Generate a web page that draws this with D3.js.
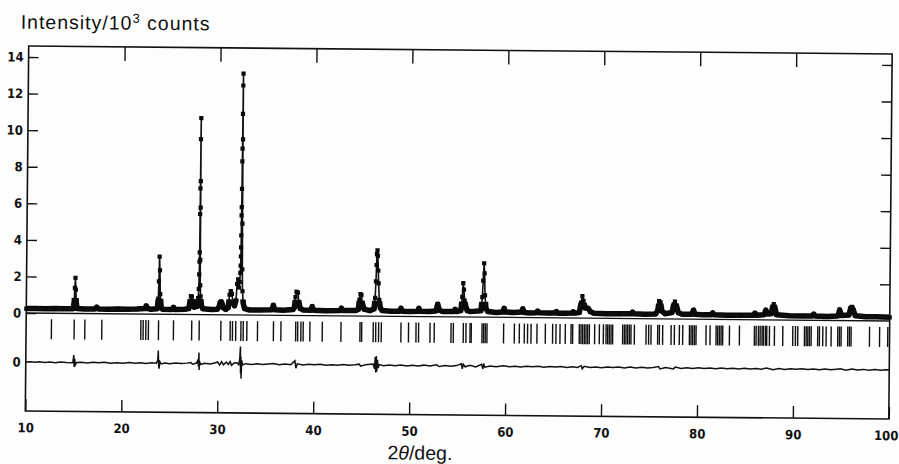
<!DOCTYPE html>
<html>
<head>
<meta charset="utf-8">
<script src="https://cdn.jsdelivr.net/npm/d3@7/dist/d3.min.js"></script>
<style>
  body { margin: 0; background: #fff; }
</style>
</head>
<body>
<div id="chart"></div>
<script>
// Data (2theta in deg, intensity in 10^3 counts)
////////////////////////////////////////////////////////////////////
const twoThetaTicks = [10, 20, 30, 40, 50, 60, 70, 80, 90, 100];
const intensityTicks = [0, 2, 4, 6, 8, 10, 12, 14];

const profile = [
  [10.0,0.24],[11.0,0.25],[12.0,0.24],[13.0,0.26],[14.0,0.25],[14.9,0.26],
  [15.0,0.7],[15.05,1.4],[15.1,1.95],[15.15,1.3],[15.2,0.6],[15.3,0.27],
  [16.0,0.25],[17.2,0.26],[17.35,0.36],[17.5,0.26],[18.5,0.25],[19.5,0.27],[20.5,0.26],[21.5,0.27],
  [22.35,0.3],[22.5,0.45],[22.65,0.3],[23.0,0.27],
  [23.65,0.3],[23.75,0.85],[23.8,1.8],[23.85,3.15],[23.9,2.4],[23.95,1.1],[24.05,0.4],[24.2,0.28],
  [25.2,0.27],[25.35,0.38],[25.5,0.27],[26.5,0.28],
  [26.95,0.32],[27.05,0.7],[27.15,1.0],[27.25,0.98],[27.35,0.6],[27.5,0.4],
  [27.8,0.45],[27.9,0.9],[27.96,1.4],[27.99,2.2],[28.01,2.9],[28.02,3.4],[28.03,5.5],[28.04,6.9],
  [28.05,9.6],[28.06,10.75],[28.07,7.3],[28.08,5.85],[28.09,3.0],[28.11,1.6],[28.16,1.0],[28.25,0.5],[28.4,0.32],
  [29.3,0.28],[29.9,0.3],[30.1,0.45],[30.2,0.68],[30.3,0.72],[30.4,0.62],[30.55,0.38],[30.8,0.3],
  [31.05,0.4],[31.18,1.1],[31.3,1.3],[31.42,1.15],[31.55,0.65],[31.7,0.5],
  [31.85,0.8],[31.95,1.7],[32.05,1.95],[32.15,1.5],[32.22,1.8],[32.27,2.3],[32.3,2.7],[32.32,3.2],
  [32.33,3.7],[32.34,4.35],[32.35,5.45],[32.36,5.9],[32.37,6.9],[32.38,8.4],[32.39,9.1],[32.4,11.0],
  [32.41,12.55],[32.42,13.2],[32.43,9.6],[32.45,5.0],[32.48,2.5],[32.52,1.3],[32.6,0.65],[32.75,0.35],[33.2,0.28],
  [34.2,0.28],[35.6,0.3],[35.75,0.55],[35.9,0.3],[36.8,0.28],[37.8,0.32],
  [37.95,0.45],[38.05,1.0],[38.15,1.3],[38.3,1.25],[38.4,0.75],[38.55,0.38],[38.9,0.3],
  [39.65,0.3],[39.8,0.5],[39.95,0.3],[41.2,0.28],[42.7,0.3],[42.85,0.42],[43.0,0.3],[44.3,0.3],
  [44.6,0.36],[44.72,0.9],[44.82,1.2],[44.92,1.15],[45.02,0.7],[45.2,0.38],[45.8,0.3],
  [46.25,0.4],[46.35,1.0],[46.42,1.9],[46.47,2.8],[46.5,3.4],[46.55,3.6],[46.6,3.3],[46.65,2.5],
  [46.7,1.8],[46.78,0.9],[46.9,0.45],[47.1,0.32],
  [48.0,0.28],[48.9,0.29],[49.05,0.45],[49.2,0.29],[50.0,0.28],[50.8,0.29],[50.92,0.45],[51.05,0.29],[52.0,0.28],
  [52.7,0.32],[52.88,0.7],[53.05,0.36],[53.4,0.29],[54.55,0.3],[54.7,0.42],[54.85,0.3],
  [55.3,0.35],[55.43,1.1],[55.52,1.85],[55.6,1.5],[55.68,0.9],[55.8,0.6],[55.95,0.35],
  [56.3,0.3],[57.4,0.35],[57.52,1.1],[57.6,2.0],[57.68,2.95],[57.74,2.4],[57.8,1.2],[57.9,0.5],[58.1,0.32],
  [59.0,0.27],[59.65,0.3],[59.8,0.5],[59.95,0.3],[60.8,0.27],[61.6,0.3],[61.75,0.48],[61.9,0.28],
  [62.5,0.26],[63.15,0.27],[63.3,0.36],[63.45,0.27],[64.5,0.26],[65.1,0.27],[65.25,0.34],[65.4,0.26],
  [66.2,0.26],[66.85,0.27],[67.0,0.34],[67.15,0.27],
  [67.65,0.3],[67.82,0.85],[67.95,1.2],[68.08,0.95],[68.25,0.55],[68.55,0.55],[68.8,0.35],[69.2,0.27],
  [70.5,0.25],[71.8,0.26],[73.05,0.26],[73.2,0.35],[73.35,0.26],[74.5,0.25],[75.6,0.27],
  [75.82,0.45],[75.95,0.97],[76.1,0.9],[76.25,0.42],[76.6,0.28],
  [77.3,0.35],[77.48,0.8],[77.6,0.95],[77.75,0.75],[77.95,0.35],[78.4,0.26],
  [79.35,0.27],[79.55,0.5],[79.7,0.27],[80.6,0.24],[81.4,0.25],[81.55,0.35],[81.7,0.25],
  [83.0,0.23],[84.5,0.24],[85.8,0.24],[85.95,0.36],[86.1,0.25],
  [86.9,0.28],[87.08,0.53],[87.25,0.32],[87.65,0.33],[87.78,0.7],[87.9,0.86],[88.02,0.68],[88.2,0.28],
  [89.5,0.23],[91.0,0.23],[91.95,0.24],[92.08,0.34],[92.2,0.24],[93.5,0.22],
  [94.6,0.25],[94.78,0.58],[94.95,0.28],[95.75,0.3],[95.92,0.68],[96.05,0.75],[96.2,0.58],[96.4,0.27],
  [97.5,0.22],[98.6,0.22],[100.0,0.2],
];

// Bragg reflection positions (deg)
const reflections = [
  12.64,15.01,16.12,17.89,21.96,22.20,22.48,22.75,23.80,25.36,27.26,28.04,30.30,31.27,31.51,31.85,
  32.39,32.63,33.01,34.12,35.78,36.56,38.10,38.31,38.64,38.88,39.58,40.87,42.82,44.80,44.98,46.18,
  46.44,46.74,47.02,49.07,49.86,50.64,50.91,52.10,52.54,54.29,54.53,55.57,55.85,56.27,56.40,57.52,
  57.69,57.86,58.04,59.77,60.89,61.41,61.93,62.27,62.63,63.25,64.12,64.88,65.23,65.65,66.20,66.80,
  66.97,67.66,67.84,68.01,68.19,68.36,68.53,68.71,69.26,69.75,70.17,70.45,70.62,70.79,70.97,71.14,
  72.18,72.36,72.53,72.70,72.88,73.05,73.40,74.62,74.89,75.14,75.83,76.01,76.35,77.23,77.57,78.09,
  78.44,79.14,79.31,79.48,79.66,79.83,80.87,81.29,81.92,82.09,82.27,82.44,82.61,83.31,84.35,85.91,
  86.09,86.33,86.51,86.71,86.85,87.06,87.20,87.48,88.00,88.87,89.91,90.19,90.43,91.13,91.31,91.48,
  91.65,91.83,92.51,92.69,93.04,93.39,93.91,94.60,94.78,94.95,95.64,95.82,95.99,97.91,98.96,99.81,
];

// observed - calculated
const difference = [
  [10.0,0.0],[10.5,0.02],[11.0,-0.01],[11.4,0.02],[12.0,-0.02],[12.5,0.01],[13.1,-0.02],[13.6,0.02],
  [14.2,-0.01],[14.9,-0.02],
  [15.0,0.4],[15.05,-0.25],[15.1,0.2],[15.15,-0.15],[15.3,0.0],[15.8,0.02],[16.4,-0.02],[17.0,0.02],
  [17.6,-0.01],[18.2,0.02],[18.8,-0.02],[19.5,0.01],[20.1,-0.02],[20.8,0.02],[21.4,-0.01],[22.0,0.02],
  [22.5,-0.02],[23.1,0.02],[23.6,0.0],
  [23.75,0.15],[23.8,0.7],[23.85,-0.15],[23.9,-0.3],[23.95,0.1],[24.1,-0.04],[24.5,0.02],
  [25.0,-0.02],[25.6,0.02],[26.2,-0.01],[26.8,0.02],[27.2,0.05],[27.4,-0.04],[27.8,0.03],
  [27.95,0.2],[28.0,-0.15],[28.04,0.6],[28.07,-0.35],[28.1,0.15],[28.2,-0.05],[28.6,0.02],
  [29.2,-0.02],[29.7,0.04],[30.0,0.1],[30.2,-0.07],[30.4,0.12],[30.6,-0.05],[30.9,0.1],
  [31.1,-0.03],[31.3,0.12],[31.45,-0.08],[31.7,0.05],[32.0,0.07],[32.2,-0.04],[32.3,0.3],
  [32.36,0.95],[32.39,-0.5],[32.42,0.4],[32.45,-0.8],[32.5,0.2],[32.6,-0.05],[32.9,0.02],
  [33.5,-0.02],[34.1,0.02],[34.7,-0.01],[35.3,0.02],[35.8,0.04],[36.4,-0.02],[37.0,0.02],[37.6,-0.02],
  [38.05,0.2],[38.15,-0.2],[38.3,0.04],[38.9,-0.02],[39.5,0.02],[40.1,-0.01],[40.7,0.02],[41.3,-0.02],
  [41.9,0.01],[42.5,-0.02],[43.1,0.02],[43.7,-0.01],[44.3,0.02],[44.75,0.05],[44.9,-0.06],[45.4,0.02],
  [46.2,0.06],[46.35,-0.2],[46.42,0.45],[46.48,-0.4],[46.53,0.5],[46.58,-0.35],[46.65,0.3],
  [46.72,-0.15],[46.85,0.04],[47.3,-0.02],[47.9,0.02],[48.5,-0.02],[49.1,0.03],[49.7,-0.02],
  [50.3,0.02],[50.9,-0.02],[51.5,0.03],[52.1,-0.02],[52.8,0.05],[53.1,-0.04],[53.7,0.02],[54.3,-0.02],
  [54.9,0.02],[55.4,0.12],[55.5,-0.15],[55.6,0.1],[55.8,-0.04],[56.3,0.05],[56.9,-0.04],[57.5,0.1],
  [57.65,-0.15],[57.72,0.15],[57.85,-0.05],[58.4,0.02],[59.0,-0.02],[59.8,0.04],[60.4,-0.02],
  [61.0,0.02],[61.6,-0.02],[62.2,0.02],[62.8,-0.01],[63.4,0.02],[64.0,-0.02],[64.6,0.02],[65.2,-0.01],
  [65.8,0.02],[66.4,-0.02],[67.0,0.02],[67.5,-0.02],[67.9,0.08],[68.0,-0.09],[68.2,0.05],[68.8,-0.02],
  [69.4,0.02],[70.0,-0.02],[70.6,0.02],[71.2,-0.01],[71.8,0.02],[72.4,-0.02],[73.0,0.03],[73.6,-0.02],
  [74.2,0.02],[74.8,-0.02],[75.4,0.02],[75.95,0.07],[76.1,-0.06],[76.7,0.02],[77.5,-0.05],[77.7,0.05],
  [78.3,-0.02],[78.9,0.02],[79.5,-0.02],[80.1,0.02],[80.7,-0.01],[81.3,0.02],[81.9,-0.02],[82.5,0.02],
  [83.1,-0.02],[83.7,0.01],[84.3,-0.02],[84.9,0.02],[85.5,-0.02],[86.1,0.02],[86.7,-0.02],[87.2,0.04],
  [87.9,-0.04],[88.5,0.02],[89.1,-0.02],[89.7,0.02],[90.3,-0.01],[90.9,0.02],[91.5,-0.02],[92.1,0.02],
  [92.7,-0.02],[93.3,0.02],[93.9,-0.01],[94.5,0.02],[94.9,0.04],[95.5,-0.03],[96.1,0.04],[96.7,-0.02],
  [97.3,0.02],[97.9,-0.02],[98.5,0.02],[99.1,-0.02],[99.6,0.01],[100.0,0.0],
];

function draw() {
  // Dimensions
  ////////////////////////////////////////////////////////////////////
  let dimensions = {
    width: 899,
    height: 464,
    margin: { top: 50, left: 27 },
  };
  dimensions.ctrWidth = 863.5;
  dimensions.ctrHeight = 365;

  const tilt = 0.53; // the scanned page is slightly rotated
  const diffBase = -2.68; // where the difference curve sits
  const tickFont = "'DejaVu Sans Condensed', 'Liberation Sans Narrow', sans-serif";
  const labelFont = "'Liberation Sans', Arial, sans-serif";

  const svg = d3
    .select("#chart")
    .append("svg")
    .attr("width", dimensions.width)
    .attr("height", dimensions.height);

  svg.append("rect")
    .attr("width", dimensions.width)
    .attr("height", dimensions.height)
    .attr("fill", "#fdfdfd");

  const page = svg.append("g").attr("transform", `rotate(${tilt}, 458, 232)`);

  const ctr = page
    .append("g")
    .attr("transform", `translate(${dimensions.margin.left}, ${dimensions.margin.top})`);

  // Scales
  ////////////////////////////////////////////////////////////////////
  const xScale = d3.scaleLinear().domain([10, 100]).range([0, dimensions.ctrWidth]);
  const yScale = d3.scaleLinear().domain([-5.36, 14.6]).range([dimensions.ctrHeight, 0]);

  const xAccessor = (d) => d[0];
  const yAccessor = (d) => d[1];

  // clip for the dense low part of the pattern
  svg.append("defs")
    .append("clipPath")
    .attr("id", "lowband")
    .append("rect")
    .attr("x", 0)
    .attr("width", dimensions.ctrWidth)
    .attr("y", yScale(0.85))
    .attr("height", yScale(-0.15) - yScale(0.85));

  // zero line
  ctr.append("line")
    .attr("x1", 0).attr("x2", dimensions.ctrWidth)
    .attr("y1", yScale(0)).attr("y2", yScale(0))
    .attr("stroke", "#111").attr("stroke-width", 1.3);

  const line = d3.line()
    .x((d) => xScale(xAccessor(d)))
    .y((d) => yScale(yAccessor(d)));

  // thick band where observed points crowd together
  ctr.append("path")
    .datum(profile)
    .attr("d", line)
    .attr("fill", "none")
    .attr("stroke", "#0a0a0a")
    .attr("stroke-width", 5.5)
    .attr("stroke-linejoin", "round")
    .attr("clip-path", "url(#lowband)");

  // calculated line
  ctr.append("path")
    .datum(profile)
    .attr("d", line)
    .attr("fill", "none")
    .attr("stroke", "#111")
    .attr("stroke-width", 1.6);

  // observed points
  const sq = 4.2;
  ctr.append("g")
    .selectAll("rect")
    .data(profile)
    .join("rect")
    .attr("x", (d) => xScale(xAccessor(d)) - sq / 2)
    .attr("y", (d) => yScale(yAccessor(d)) - sq / 2)
    .attr("width", sq)
    .attr("height", sq)
    .attr("fill", "#0a0a0a");

  // reflection markers
  const reflTop = yScale(0) + 6;
  ctr.append("g")
    .selectAll("line")
    .data(reflections)
    .join("line")
    .attr("x1", (d) => xScale(d))
    .attr("x2", (d) => xScale(d))
    .attr("y1", reflTop)
    .attr("y2", reflTop + 20)
    .attr("stroke", "#111")
    .attr("stroke-width", 1.4);

  // difference curve
  ctr.append("path")
    .datum(difference)
    .attr("d", d3.line()
      .x((d) => xScale(xAccessor(d)))
      .y((d) => yScale(diffBase + yAccessor(d))))
    .attr("fill", "none")
    .attr("stroke", "#111")
    .attr("stroke-width", 1.5);

  // Axis
  ////////////////////////////////////////////////////////////////////
  const styleAxis = (g) => {
    g.select(".domain").remove();
    g.selectAll(".tick line").attr("stroke", "#111").attr("stroke-width", 1.4);
    g.selectAll("text")
      .attr("fill", "#111")
      .style("font-family", tickFont)
      .style("font-size", "13px")
      .style("font-weight", "bold");
  };

  const xAxis = d3.axisBottom(xScale)
    .tickValues(twoThetaTicks)
    .tickSizeInner(-12)
    .tickSizeOuter(0)
    .tickPadding(12);
  const xAxisGroup = ctr.append("g")
    .attr("transform", `translate(0,${dimensions.ctrHeight})`)
    .call(xAxis)
    .call(styleAxis);
  // last label sits against the page edge
  xAxisGroup.selectAll(".tick text").filter((d) => d === 100).attr("dx", -3);

  const xAxisTop = d3.axisTop(xScale)
    .tickValues(twoThetaTicks.slice(1, -1))
    .tickSizeInner(-14)
    .tickSizeOuter(0)
    .tickFormat("");
  ctr.append("g").call(xAxisTop).call(styleAxis);

  const yAxis = d3.axisLeft(yScale)
    .tickValues(intensityTicks)
    .tickSizeInner(-10)
    .tickSizeOuter(0)
    .tickPadding(5);
  ctr.append("g").call(yAxis).call(styleAxis);

  const yAxisRight = d3.axisRight(yScale)
    .tickValues(intensityTicks.slice(1))
    .tickSizeInner(-10)
    .tickSizeOuter(0)
    .tickFormat("");
  ctr.append("g")
    .attr("transform", `translate(${dimensions.ctrWidth},0)`)
    .call(yAxisRight)
    .call(styleAxis);

  const diffAxis = d3.axisLeft(yScale)
    .tickValues([diffBase])
    .tickSize(0)
    .tickPadding(5)
    .tickFormat(() => "0");
  ctr.append("g").call(diffAxis).call(styleAxis);

  // frame
  ctr.append("rect")
    .attr("width", dimensions.ctrWidth)
    .attr("height", dimensions.ctrHeight)
    .attr("fill", "none")
    .attr("stroke", "#111")
    .attr("stroke-width", 1.6);

  // Labels
  ////////////////////////////////////////////////////////////////////
  const yLabel = ctr.append("text")
    .attr("x", -8.2)
    .attr("y", -17.3)
    .attr("fill", "#111")
    .style("font-family", labelFont)
    .style("font-size", "19.5px")
    .style("letter-spacing", "1px");
  yLabel.append("tspan").text("Intensity/10");
  yLabel.append("tspan").attr("dy", -7).style("font-size", "13px").text("3");
  yLabel.append("tspan").attr("dy", 7).text(" counts");

  const xLabel = ctr.append("text")
    .attr("x", 395)
    .attr("y", 410)
    .attr("text-anchor", "middle")
    .attr("fill", "#111")
    .style("font-family", labelFont)
    .style("font-size", "19.5px");
  xLabel.append("tspan").text("2");
  xLabel.append("tspan").style("font-style", "italic").text("θ");
  xLabel.append("tspan").text("/deg.");
}

draw();
</script>
</body>
</html>
